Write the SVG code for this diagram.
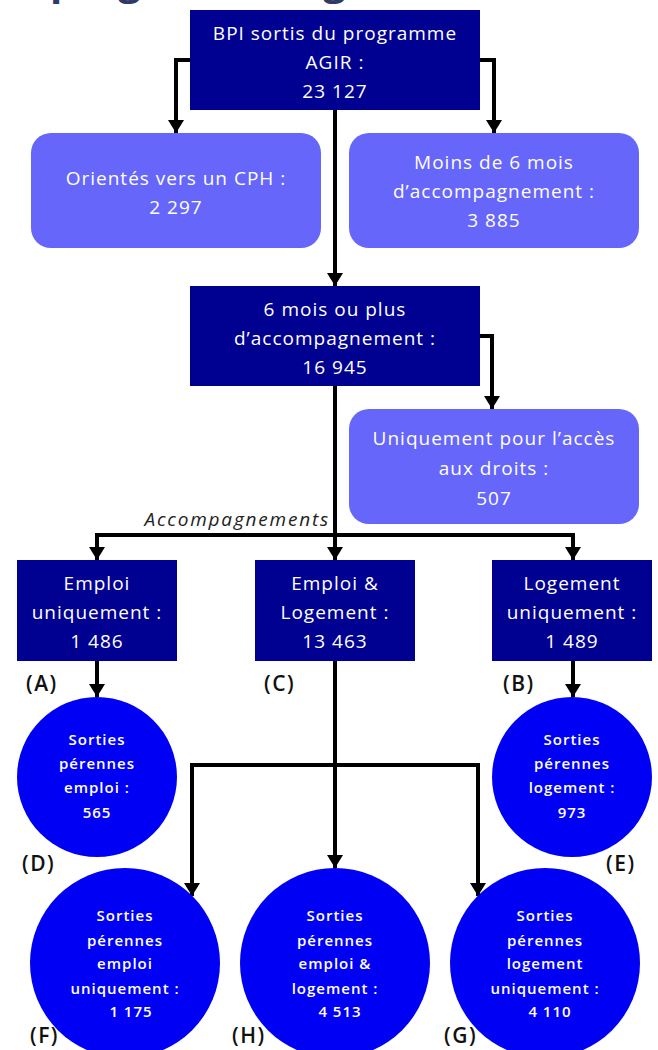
<svg xmlns="http://www.w3.org/2000/svg" width="658" height="1050" viewBox="0 0 658 1050">
<style>
.dark{fill:#000091}
.light{fill:#6666fb}
.circ{fill:#0000f5}
.t{font-family:"Open Sans","Liberation Sans",sans-serif;font-size:19px;fill:#fff;text-anchor:middle;letter-spacing:1px}
.c{font-family:"Open Sans","Liberation Sans",sans-serif;font-size:15px;font-weight:600;fill:#fff;text-anchor:middle;letter-spacing:1px}
.lbl{font-family:"Open Sans","Liberation Sans",sans-serif;font-size:21px;font-weight:600;fill:#111;letter-spacing:1.5px}
.conn{fill:none;stroke:#000;stroke-width:4;stroke-linejoin:miter;marker-end:url(#arr)}
.title{font-family:"Open Sans","Liberation Sans",sans-serif;font-size:40px;font-weight:700;fill:#2f3a66}
.acc{font-family:"Open Sans","Liberation Sans",sans-serif;font-size:19px;font-style:italic;fill:#222;text-anchor:end;letter-spacing:1.8px}
</style>
<defs>
<marker id="arr" markerUnits="userSpaceOnUse" markerWidth="14" markerHeight="16" refX="13" refY="8" orient="auto">
<path d="M0,0 L13,8 L0,16 z" fill="#000"/>
</marker>
</defs>
<rect width="658" height="1050" fill="#fff"/>
<text class="title" x="50" y="-5">programme Agir</text>

<g id="connectors">
<path class="conn" d="M190,60 H176 V133"/>
<path class="conn" d="M480,60 H494 V133"/>
<path class="conn" d="M335,110 V286"/>
<path class="conn" d="M480,336 H492 V409"/>
<path class="conn" d="M335,386 V560"/>
<path class="conn" d="M335,535 H97 V560"/>
<path class="conn" d="M335,535 H573 V560"/>
<path class="conn" d="M97,661 V697"/>
<path class="conn" d="M573,661 V697"/>
<path class="conn" d="M335,661 V868"/>
<path class="conn" d="M335,765 H192 V896"/>
<path class="conn" d="M335,765 H478 V896"/>
</g>
<text class="acc" x="330" y="526">Accompagnements</text>

<g id="n-agir">
<rect class="dark" x="190" y="10" width="290" height="100"/>
<text class="t" x="335" y="40">BPI sortis du programme</text>
<text class="t" x="335" y="69">AGIR :</text>
<text class="t" x="335" y="98">23 127</text>
</g>
<g id="n-cph">
<rect class="light" x="31" y="133" width="290" height="115" rx="20"/>
<text class="t" x="176" y="185">Orientés vers un CPH :</text>
<text class="t" x="176" y="214">2 297</text>
</g>
<g id="n-moins6">
<rect class="light" x="349" y="133" width="290" height="115" rx="20"/>
<text class="t" x="494" y="169">Moins de 6 mois</text>
<text class="t" x="494" y="198">d’accompagnement :</text>
<text class="t" x="494" y="227">3 885</text>
</g>
<g id="n-6plus">
<rect class="dark" x="190" y="286" width="290" height="100"/>
<text class="t" x="335" y="316">6 mois ou plus</text>
<text class="t" x="335" y="345">d’accompagnement :</text>
<text class="t" x="335" y="374">16 945</text>
</g>
<g id="n-droits">
<rect class="light" x="349" y="409" width="290" height="115" rx="20"/>
<text class="t" x="494" y="445">Uniquement pour l’accès</text>
<text class="t" x="494" y="475">aux droits :</text>
<text class="t" x="494" y="505">507</text>
</g>
<g id="n-a">
<rect class="dark" x="17" y="560" width="160" height="101"/>
<text class="t" x="97" y="590">Emploi</text>
<text class="t" x="97" y="619">uniquement :</text>
<text class="t" x="97" y="648">1 486</text>
<text class="lbl" x="26" y="691">(A)</text>
</g>
<g id="n-c">
<rect class="dark" x="255" y="560" width="160" height="101"/>
<text class="t" x="335" y="590">Emploi &amp;</text>
<text class="t" x="335" y="619">Logement :</text>
<text class="t" x="335" y="648">13 463</text>
<text class="lbl" x="264" y="691">(C)</text>
</g>
<g id="n-b">
<rect class="dark" x="492" y="560" width="160" height="101"/>
<text class="t" x="572" y="590">Logement</text>
<text class="t" x="572" y="619">uniquement :</text>
<text class="t" x="572" y="648">1 489</text>
<text class="lbl" x="503" y="691">(B)</text>
</g>
<g id="n-d">
<circle class="circ" cx="97" cy="777" r="80"/>
<text class="c" x="97" y="745">Sorties</text>
<text class="c" x="97" y="769">pérennes</text>
<text class="c" x="97" y="793">emploi :</text>
<text class="c" x="97" y="818">565</text>
<text class="lbl" x="22" y="871">(D)</text>
</g>
<g id="n-e">
<circle class="circ" cx="572" cy="777" r="80"/>
<text class="c" x="572" y="745">Sorties</text>
<text class="c" x="572" y="769">pérennes</text>
<text class="c" x="572" y="793">logement :</text>
<text class="c" x="572" y="818">973</text>
<text class="lbl" x="606" y="871">(E)</text>
</g>
<g id="n-f">
<circle class="circ" cx="125" cy="963" r="95"/>
<text class="c" x="125" y="921">Sorties</text>
<text class="c" x="125" y="946">pérennes</text>
<text class="c" x="125" y="969">emploi</text>
<text class="c" x="125" y="994">uniquement :</text>
<text class="c" x="131" y="1017">1 175</text>
<text class="lbl" x="30" y="1043">(F)</text>
</g>
<g id="n-h">
<circle class="circ" cx="335" cy="963" r="95"/>
<text class="c" x="335" y="921">Sorties</text>
<text class="c" x="335" y="946">pérennes</text>
<text class="c" x="335" y="969">emploi &amp;</text>
<text class="c" x="335" y="994">logement :</text>
<text class="c" x="340" y="1017">4 513</text>
<text class="lbl" x="232" y="1043">(H)</text>
</g>
<g id="n-g">
<circle class="circ" cx="545" cy="963" r="95"/>
<text class="c" x="545" y="921">Sorties</text>
<text class="c" x="545" y="946">pérennes</text>
<text class="c" x="545" y="969">logement</text>
<text class="c" x="545" y="994">uniquement :</text>
<text class="c" x="550" y="1017">4 110</text>
<text class="lbl" x="444" y="1043">(G)</text>
</g>
</svg>
